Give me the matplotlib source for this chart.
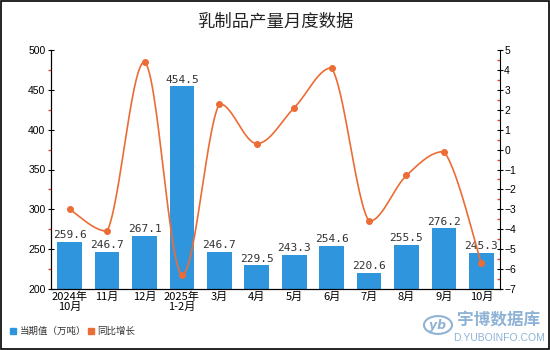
import numpy as np
import matplotlib
matplotlib.use("Agg")
import matplotlib.pyplot as plt
from matplotlib.patches import Rectangle, Circle
from matplotlib.ticker import MultipleLocator

plt.rcParams['font.family'] = ['Noto Sans CJK SC', 'DejaVu Sans']

months = ["2024年\n10月", "11月", "12月", "2025年\n1-2月", "3月", "4月",
          "5月", "6月", "7月", "8月", "9月", "10月"]
output = [259.6, 246.7, 267.1, 454.5, 246.7, 229.5,
          243.3, 254.6, 220.6, 255.5, 276.2, 245.3]
growth = [-3.0, -4.1, 4.4, -6.3, 2.3, 0.3,
          2.1, 4.1, -3.6, -1.3, -0.1, -5.7]

BAR_C = '#2f96de'
LINE_C = '#ec6c35'
TICK_RED = '#e8433a'


def smooth_curve(xs, ys, smooth=0.35, n=30):
    # bezier segments with control points along neighbour direction
    xs = np.asarray(xs, float)
    ys = np.asarray(ys, float)
    cps = []
    for i in range(len(xs)):
        p_prev = np.array([xs[max(i - 1, 0)], ys[max(i - 1, 0)]])
        p_next = np.array([xs[min(i + 1, len(xs) - 1)], ys[min(i + 1, len(xs) - 1)]])
        cps.append((p_next - p_prev) * smooth)
    ox, oy = [], []
    t = np.linspace(0, 1, n)
    for i in range(len(xs) - 1):
        p0 = np.array([xs[i], ys[i]])
        p3 = np.array([xs[i + 1], ys[i + 1]])
        p1 = p0 + cps[i] * 0.5
        p2 = p3 - cps[i + 1] * 0.5
        # keep control points inside the segment's y range
        lo, hi = min(p0[1], p3[1]), max(p0[1], p3[1])
        p1[1] = np.clip(p1[1], lo, hi)
        p2[1] = np.clip(p2[1], lo, hi)
        b = ((1 - t) ** 3)[:, None] * p0 + (3 * (1 - t) ** 2 * t)[:, None] * p1 \
            + (3 * (1 - t) * t ** 2)[:, None] * p2 + (t ** 3)[:, None] * p3
        ox.extend(b[:, 0])
        oy.extend(b[:, 1])
    return np.array(ox), np.array(oy)


fig = plt.figure(figsize=(5.5, 3.5), dpi=100)
ax = fig.add_axes([51 / 550, 1 - 289 / 350, 449 / 550, 239 / 350])
ax2 = ax.twinx()

x = np.arange(len(months))
bars = ax.bar(x, output, width=0.66, color=BAR_C, zorder=2)
for xi, v in zip(x, output):
    ax.text(xi, v + 2, f"{v:.1f}", ha='center', va='bottom', fontsize=8,
            color='#333333', family=['DejaVu Sans Mono'], zorder=5)

ax.set_xlim(-0.5, len(months) - 0.5)
ax.set_ylim(200, 500)
ax.yaxis.set_major_locator(MultipleLocator(50))
ax.yaxis.set_minor_locator(MultipleLocator(25))
ax.tick_params(axis='y', which='major', length=4, direction='inout', labelsize=7.5,
               color='black', labelfontfamily='Liberation Sans', pad=2)
ax.tick_params(axis='y', which='minor', length=2.5, width=1, direction='out', color=TICK_RED)
ax.set_xticks(x)
ax.set_xticklabels(months, fontsize=8, linespacing=1.0)
ax.tick_params(axis='x', length=0, pad=2)
ax.spines['top'].set_visible(False)
ax2.spines['top'].set_visible(False)
ax.spines['right'].set_visible(False)

lx, ly = smooth_curve(x, growth)
ax2.plot(lx, ly, color=LINE_C, lw=1.2, zorder=3)
ax2.plot(x, growth, 'o', color=LINE_C, ms=4, zorder=4)
ax2.set_ylim(-7, 5)
ax2.yaxis.set_major_locator(MultipleLocator(1))
ax2.yaxis.set_minor_locator(MultipleLocator(0.5))
ax2.tick_params(axis='y', which='major', length=4, direction='inout', labelsize=7.5,
                color='black', pad=1, labelfontfamily='Liberation Sans')
ax2.tick_params(axis='y', which='minor', length=2.5, width=1, direction='in', color=TICK_RED)

fig.text(0.5, 1 - 22 / 350, "乳制品产量月度数据", ha='center', va='center', fontsize=12.5,
         color='#222222')

# legend
fig.patches.append(Rectangle((10 / 550, 1 - 334 / 350), 6 / 550, 6 / 350,
                             transform=fig.transFigure, color=BAR_C))
fig.text(20 / 550, 1 - 331 / 350, "当期值（万吨）", va='center', fontsize=6.8, color='#333333')
fig.patches.append(Rectangle((88 / 550, 1 - 334 / 350), 6 / 550, 6 / 350,
                             transform=fig.transFigure, color=LINE_C))
fig.text(97 / 550, 1 - 331 / 350, "同比增长", va='center', fontsize=6.8, color='#333333')

# watermark
wm = '#8fb3d6'
fig.patches.append(Circle((438 / 550, 1 - 325 / 350), 14 / 550, transform=fig.transFigure,
                          fill=False, ec=wm, lw=1.5))
fig.text(438 / 550, 1 - 325 / 350, "yb", ha='center', va='center', fontsize=9,
         color=wm, style='italic', fontweight='bold', family=['DejaVu Sans'])
fig.text(499 / 550, 1 - 320 / 350, "宇博数据库", ha='center', va='center', fontsize=12,
         color=wm, fontweight='bold')
fig.text(499 / 550, 1 - 338 / 350, "D.YUBOINFO.COM", ha='center', va='center', fontsize=7.5,
         color=wm, family=['Liberation Sans'])

# outer frame
fig.patches.append(Rectangle((0.001, 0.002), 0.997, 0.996, transform=fig.transFigure,
                             fill=False, ec='black', lw=1.2))

fig.savefig("out.png", dpi=100)
